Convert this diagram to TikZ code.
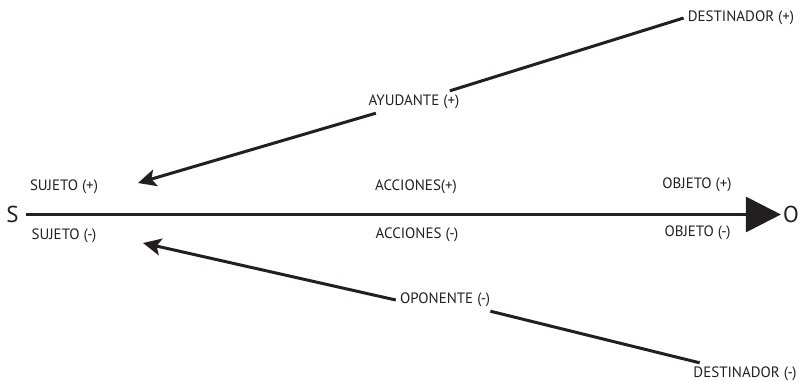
\documentclass[tikz,border=0pt]{standalone}
\usepackage{fontspec}
\setmainfont{PT Sans}
\usepackage{tikz}
\usetikzlibrary{arrows.meta,shapes}
\definecolor{ink}{RGB}{35,31,32}

\begin{document}
\begin{tikzpicture}[lbl/.style={inner sep=4bp,text=ink,font=\fontsize{15bp}{17bp}\selectfont},
  pole/.style={inner sep=2bp,text=ink,font=\fontsize{23bp}{26bp}\selectfont},
  line/.style={draw=ink,line width=3bp},
  arr/.style={line,-{Stealth[length=18bp,width=17bp,inset=4bp]}}]
\useasboundingbox (0bp,0bp) rectangle (802bp,-382bp);
\node (S) at (12.5bp,-214.5bp)[pole] {S};
\node (O) at (791bp,-214.5bp)[pole] {O};
\node (sujP) at (64bp,-187bp)[lbl] {SUJETO (+)};
\node (sujM) at (64bp,-236bp)[lbl] {SUJETO (-)};
\node (accP) at (416bp,-187bp)[lbl] {ACCIONES(+)};
\node (accM) at (417bp,-235bp)[lbl] {ACCIONES (-)};
\node (objP) at (697bp,-185bp)[lbl] {OBJETO (+)};
\node (objM) at (697.5bp,-233bp)[lbl] {OBJETO (-)};
\node (dp) at (741bp,-18bp)[lbl] {DESTINADOR (+)};
\node (ay) at (414bp,-102bp)[lbl] {AYUDANTE (+)};
\node (op) at (445bp,-300bp)[lbl] {OPONENTE (-)};
\node (dm) at (745bp,-374bp)[lbl] {DESTINADOR (-)};
\coordinate (tu) at (138bp,-183bp);
\coordinate (tl) at (143bp,-243bp);
% eje principal
\draw [line,-{Triangle[length=35bp,width=35bp]},shorten <=5bp] (S) -- (O);
% destinador (+) -> ayudante -> sujeto
\draw [line] (dp.west) -- (ay);
\draw [arr] (ay) -- (tu);
% destinador (-) -> oponente -> sujeto
\draw [line] (dm) -- (op);
\draw [arr] (op.west) -- (tl);
\end{tikzpicture}
\end{document}
